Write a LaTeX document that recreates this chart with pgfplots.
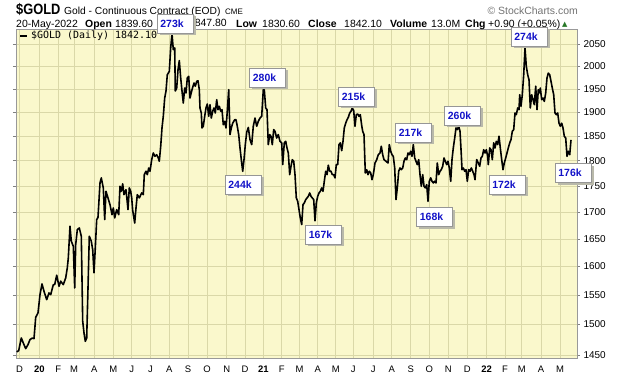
\documentclass[border=0pt]{standalone}
\usepackage{fontspec}
\setmainfont{Liberation Sans}
\newfontfamily\monofont{DejaVu Sans Mono}
\newfontfamily\symfont{DejaVu Sans}
\newfontfamily\titlefont{Liberation Sans}[FakeStretch=0.86]
\usepackage{pgfplots}
\pgfplotsset{compat=1.18}
\usepackage{pgfplotstable}
\definecolor{bgyel}{RGB}{250,248,204}
\definecolor{gridc}{RGB}{218,216,168}
\definecolor{boxblue}{RGB}{18,18,200}
\definecolor{boxborder}{RGB}{150,150,150}
\definecolor{shadowc}{RGB}{185,185,170}
\definecolor{upgreen}{RGB}{40,120,40}

% t = time position (chart time index), close price
\pgfplotstableread{
t close
16.7 1454.9
18.7 1457.0
21.3 1477.6
23.3 1469.4
25.7 1460.2
28.0 1466.7
30.0 1474.9
32.3 1477.6
34.0 1476.5
35.7 1512.0
38.0 1519.4
40.0 1550.7
42.0 1569.2
44.0 1556.5
46.7 1542.0
49.0 1553.6
50.7 1550.7
53.3 1568.0
54.7 1568.0
56.7 1584.5
59.0 1565.2
60.7 1574.0
63.3 1568.0
65.7 1579.8
67.3 1597.5
68.3 1615.3
70.0 1673.3
71.3 1645.7
73.3 1636.5
74.7 1562.2
75.7 1639.4
77.3 1667.0
79.3 1670.2
81.3 1654.8
82.7 1505.3
84.0 1485.9
85.3 1472.2
86.7 1477.6
88.0 1562.2
89.3 1654.8
91.3 1645.7
92.7 1630.3
94.0 1588.8
95.3 1633.4
96.7 1685.7
98.0 1690.2
100.0 1756.1
101.3 1765.9
103.3 1746.3
104.7 1685.7
106.0 1739.8
108.0 1726.9
110.0 1714.1
112.0 1695.1
113.3 1707.8
114.7 1688.9
116.7 1704.6
118.7 1695.1
120.0 1749.6
121.3 1739.8
122.7 1754.1
124.0 1733.3
126.0 1743.0
128.0 1704.6
129.3 1746.3
130.7 1739.8
131.7 1726.9
132.7 1703.0
134.7 1679.5
136.0 1707.8
137.3 1733.3
139.3 1726.9
141.7 1736.6
143.3 1733.3
144.3 1772.3
146.0 1779.0
147.3 1772.3
148.7 1785.6
150.0 1779.0
151.7 1802.2
153.3 1815.7
155.0 1809.0
156.7 1812.2
158.3 1805.6
159.3 1799.0
160.7 1829.3
162.0 1867.0
163.3 1891.5
164.7 1930.4
166.0 1945.4
167.3 1981.1
169.3 1988.6
170.7 2040.9
172.0 2073.0
173.3 2037.0
174.7 2040.9
175.3 1945.4
176.7 1952.0
178.0 1992.1
179.3 2012.2
180.7 1973.8
182.0 1945.4
183.3 1919.6
184.7 1952.0
186.0 1941.2
187.3 1973.8
188.7 1977.5
190.0 1930.4
192.0 1948.5
194.0 1962.9
195.3 1955.7
196.7 1966.6
198.0 1967.9
199.3 1948.5
200.0 1909.0
201.3 1898.4
202.0 1867.0
203.3 1870.5
204.7 1891.5
206.0 1909.0
207.3 1917.5
208.7 1891.5
210.0 1916.0
211.3 1887.8
212.7 1902.1
214.0 1909.0
215.3 1898.4
216.7 1926.7
218.0 1905.4
219.3 1912.6
220.7 1902.1
222.0 1905.4
223.3 1873.7
224.7 1880.8
226.0 1867.0
227.3 1902.1
228.7 1948.5
230.0 1853.1
231.3 1867.0
232.7 1877.2
234.7 1884.3
236.0 1884.3
237.3 1870.5
238.7 1853.1
240.0 1825.8
241.3 1802.2
242.7 1779.0
244.0 1802.2
245.3 1832.6
246.7 1858.0
248.3 1868.0
250.0 1842.8
251.7 1832.6
253.3 1870.5
255.0 1887.8
256.7 1870.5
258.3 1880.8
260.0 1887.8
261.7 1891.5
263.3 1948.5
264.3 1948.5
265.7 1909.0
267.0 1905.4
268.3 1832.6
269.7 1853.1
271.0 1849.8
272.3 1832.6
273.7 1863.5
275.0 1860.1
276.7 1846.3
278.3 1853.1
280.0 1839.6
281.7 1836.1
282.7 1792.2
284.3 1836.1
285.7 1839.6
287.0 1825.8
288.3 1815.7
289.7 1772.3
291.0 1789.0
292.3 1802.2
293.7 1799.0
295.0 1772.3
296.3 1726.9
297.7 1720.5
299.0 1704.6
300.3 1688.9
301.7 1676.4
303.0 1714.1
304.3 1717.3
305.7 1723.7
307.0 1726.9
308.3 1730.2
309.7 1736.6
311.0 1730.2
312.3 1726.9
313.7 1723.7
315.0 1683.8
316.3 1717.3
317.7 1730.2
319.0 1736.6
320.3 1739.8
321.7 1746.3
323.0 1739.8
324.3 1759.4
325.7 1779.0
327.0 1772.3
328.3 1791.0
329.7 1779.0
331.0 1779.0
332.3 1772.3
333.7 1772.3
335.0 1765.9
336.3 1792.2
337.7 1792.2
339.0 1832.6
340.3 1836.1
341.7 1820.4
343.0 1839.6
344.3 1867.0
345.7 1877.2
347.0 1884.3
348.3 1889.2
349.7 1898.4
351.0 1902.1
352.3 1909.0
353.7 1903.3
355.0 1870.5
356.3 1894.7
357.7 1896.3
359.0 1891.5
360.3 1894.7
361.7 1872.0
362.7 1860.1
364.0 1853.1
365.3 1775.7
366.7 1782.2
368.0 1772.3
369.3 1779.0
370.7 1775.7
372.0 1762.5
373.3 1772.3
375.0 1795.6
376.7 1802.2
378.3 1812.2
380.0 1815.7
381.3 1829.3
382.7 1812.2
384.0 1802.2
386.0 1799.0
388.0 1795.6
389.3 1832.6
390.7 1819.1
392.0 1812.2
393.3 1809.0
394.7 1785.6
396.0 1723.7
397.3 1746.3
398.7 1779.0
400.0 1785.6
401.3 1782.2
402.7 1785.6
404.0 1799.0
405.3 1805.6
406.7 1802.2
408.0 1815.7
409.3 1812.2
410.7 1819.1
412.0 1809.0
413.3 1832.6
414.7 1805.6
416.0 1799.0
417.3 1792.2
418.7 1802.2
420.0 1772.3
421.3 1749.6
422.7 1772.3
424.0 1749.6
425.3 1746.3
426.7 1752.8
428.0 1720.5
429.3 1759.4
430.7 1765.9
432.0 1759.4
433.3 1756.1
434.7 1759.4
436.0 1756.1
437.3 1795.6
438.7 1772.3
440.0 1779.0
441.3 1782.2
442.7 1789.0
444.0 1805.6
445.3 1799.0
446.7 1792.2
448.0 1799.0
449.3 1785.6
450.7 1759.4
452.0 1802.2
453.3 1825.8
454.7 1846.3
456.0 1867.0
457.3 1863.5
458.7 1870.5
460.0 1860.1
461.3 1812.2
462.0 1782.2
463.3 1785.6
464.7 1779.0
466.0 1782.2
467.3 1759.4
468.7 1782.2
470.0 1779.0
471.3 1785.6
472.7 1779.0
474.0 1772.3
475.0 1762.5
476.7 1802.2
478.3 1795.6
479.7 1789.0
481.0 1805.6
482.3 1809.0
483.7 1822.4
485.0 1815.7
486.3 1822.4
487.7 1809.0
488.3 1792.2
489.7 1825.8
491.0 1822.4
492.3 1802.2
493.7 1836.1
495.0 1825.8
496.3 1839.6
497.7 1832.6
499.0 1849.8
500.3 1825.8
501.7 1802.2
503.0 1782.2
504.3 1795.6
505.7 1805.6
507.0 1815.7
508.3 1825.8
509.7 1836.1
511.0 1842.8
512.3 1860.1
513.7 1863.5
515.0 1898.4
516.3 1894.7
517.7 1909.0
519.0 1905.4
519.7 1937.5
521.0 1912.6
522.3 1937.5
523.7 1981.1
525.0 2040.9
526.3 1999.5
527.7 1981.1
529.0 1970.1
530.3 1909.0
531.7 1937.5
533.0 1926.7
534.3 1916.0
535.7 1955.7
537.0 1905.4
538.3 1948.5
539.7 1941.2
540.3 1952.0
541.7 1926.7
543.0 1930.4
544.3 1923.3
545.7 1941.2
547.0 1973.8
548.3 1984.7
549.7 1981.1
551.0 1966.6
552.3 1952.0
553.7 1937.5
555.0 1898.4
556.3 1894.7
557.7 1898.4
559.0 1877.2
560.3 1870.5
561.7 1877.2
563.0 1867.0
564.3 1849.8
565.7 1846.3
567.0 1809.0
568.3 1819.1
569.7 1812.2
571.0 1842.1
}\golddata

\newcommand\callout[3]{%
  \fill[shadowc] ({(#1+2.5)*1bp},{(376-#2-21.5)*1bp}) rectangle +(36bp,19bp);
  \filldraw[fill=white,draw=boxborder,line width=0.8bp] ({#1*1bp},{(376-#2-19)*1bp}) rectangle +(36bp,19bp);
  \node[anchor=west,inner sep=0pt,text=boxblue,font=\bfseries\fontsize{10.5}{10.5}\selectfont] at ({(#1+3.2)*1bp},{(376-#2-9.5)*1bp}) {#3};
}
\newcommand\hdr[3]{%
  \node[anchor=base west,inner sep=0pt,font=\fontsize{10.5}{10.5}\selectfont] at ({#1*1bp},{(376-#2)*1bp}) {#3};
}

\begin{document}
\begin{tikzpicture}
\path[use as bounding box] (0,0) rectangle (620bp,376bp);
\begin{axis}[
  at={(16bp,18bp)}, anchor=south west,
  scale only axis, width=561bp, height=329bp,
  xmin=16, xmax=577,
  ymode=log, ymin=1445.1, ymax=2084.5,
  axis background/.style={fill=bgyel},
  axis line style={draw=black!40, line width=0.6bp},
  grid=major,
  major grid style={draw=gridc, line width=0.6bp},
  xtick={19.5,39.3,58.3,74,94.3,113.3,131.7,150.5,169.3,188,207,226.7,245,263.3,281.7,299.5,317.7,335.7,353.3,373.3,391.7,410.7,429.3,448.3,467.3,486.7,505,521.7,541,560},
  xticklabels={D,\textbf{20},F,M,A,M,J,J,A,S,O,N,D,\textbf{21},F,M,A,M,J,J,A,S,O,N,D,\textbf{22},F,M,A,M},
  xtick style={draw=none},
  xticklabel style={font=\fontsize{9.5}{9.5}\selectfont, yshift=-1.5bp},
  ytick={1450,1500,1550,1600,1650,1700,1750,1800,1850,1900,1950,2000,2050},
  yticklabels={1450,1500,1550,1600,1650,1700,1750,1800,1850,1900,1950,2000,2050},
  yticklabel pos=right,
  ytick style={draw=black!50, line width=0.5bp},
  y tick label style={font=\fontsize{10}{10}\selectfont},
  tick align=outside,
  major tick length=3bp,
  minor tick num=0,
]
\addplot[black, line width=1.6bp, line join=round, no markers] table[x=t, y=close] {\golddata};
\end{axis}

% legend
\draw[black, line width=2bp] (20bp,340bp) -- (27bp,340bp);
\node[anchor=west, inner sep=0pt, font=\monofont\fontsize{10}{10}\selectfont] at (31bp,340bp) {\$GOLD (Daily) 1842.10};

% header line 1
\node[anchor=base west, inner sep=0pt, font=\titlefont\bfseries\fontsize{15}{15}\selectfont] at (16bp,361.5bp) {\$GOLD};
\node[anchor=base west, inner sep=0pt, font=\fontsize{10.3}{10.3}\selectfont] at (64bp,361.5bp) {Gold - Continuous Contract (EOD)};
\node[anchor=base west, inner sep=0pt, font=\fontsize{8}{8}\selectfont] at (225bp,361.5bp) {CME};
\node[anchor=base east, inner sep=0pt, text=black!55, font=\fontsize{10.5}{10.5}\selectfont] at (578bp,361.5bp) {\textcopyright\ StockCharts.com};

% header line 2 (the High field is hidden behind the 273k call-out)
\hdr{16}{27}{20-May-2022}
\hdr{85}{27}{\textbf{Open}}
\hdr{115}{27}{1839.60}
\node[anchor=base east,inner sep=0pt,font=\fontsize{10.5}{10.5}\selectfont] at (227bp,349bp) {847.80};
\hdr{236}{27}{\textbf{Low}}
\hdr{262}{27}{1830.60}
\hdr{308}{27}{\textbf{Close}}
\hdr{344}{27}{1842.10}
\hdr{390}{27}{\textbf{Volume}}
\hdr{431}{27}{13.0M}
\hdr{465}{27}{\textbf{Chg}}
\hdr{488}{27}{+0.90 (+0.05\%)}
\node[anchor=base west,inner sep=0pt,text=upgreen,font=\symfont\fontsize{7}{7}\selectfont] at (562bp,349bp) {▲};

% volume call-outs
\callout{157}{14}{273k}
\callout{249.5}{68}{280k}
\callout{225}{175}{244k}
\callout{338.5}{87}{215k}
\callout{305.5}{225}{167k}
\callout{395.5}{123}{217k}
\callout{416.5}{207.5}{168k}
\callout{444.5}{106}{260k}
\callout{489}{175}{172k}
\callout{511}{27}{274k}
\callout{555}{163.5}{176k}
\end{tikzpicture}
\end{document}
